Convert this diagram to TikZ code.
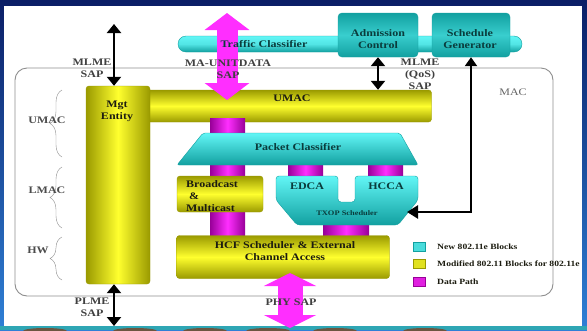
\documentclass[tikz,border=0pt]{standalone}
\usepackage{fontspec}
\setmainfont[FakeStretch=1.2]{Liberation Serif}
\usetikzlibrary{arrows.meta,positioning,decorations.pathreplacing}

\definecolor{navy}{HTML}{0B1E66}
\definecolor{skyblue}{HTML}{2F80D6}
\definecolor{stripteal}{HTML}{2EA6B4}
\definecolor{stripbrown}{HTML}{6B5640}
\definecolor{yelmid}{HTML}{FFFF2E}
\definecolor{yeledge}{HTML}{9A9A00}
\definecolor{cyanmid}{HTML}{62F6F6}
\definecolor{cyanedge}{HTML}{12A0A0}
\definecolor{tealbox}{HTML}{1DB3B3}
\definecolor{magmid}{HTML}{FF2EFF}
\definecolor{magedge}{HTML}{980098}
\definecolor{macgray}{HTML}{8E8E8E}
\definecolor{inkdark}{HTML}{1C1C10}
\definecolor{inkteal}{HTML}{0A3C3C}

\tikzset{
  yelvert/.style={draw=yeledge, rounded corners=3pt, left color=yeledge, right color=yeledge, middle color=yelmid, inner sep=0pt},
  yelhorz/.style={draw=yeledge, rounded corners=3pt, top color=yeledge, bottom color=yeledge, middle color=yelmid, inner sep=0pt},
  cyanblk/.style={draw=cyanedge, top color=cyanmid, bottom color=cyanedge},
  tealblk/.style={draw=cyanedge, rounded corners=4pt, top color=cyanedge, bottom color=cyanedge, middle color=tealbox!60!cyanmid, inner sep=0pt},
  pipe/.style={left color=magedge, right color=magedge, middle color=magmid},
  blktxt/.style={font=\bfseries\fontsize{10}{12}\selectfont, align=center, inner sep=0pt, text=inkdark},
  brlbl/.style={font=\bfseries\fontsize{10}{12}\selectfont, inner sep=0pt, text=black!70},
  ctrl/.style={line width=2.4pt, {Triangle[length=9pt,width=14pt]}-{Triangle[length=9pt,width=14pt]}},
  fatsap/.style={magmid, line width=21pt, {Triangle[length=17pt,width=44pt]}-{Triangle[length=17pt,width=44pt]}},
  legtxt/.style={font=\bfseries\fontsize{8}{10}\selectfont, anchor=west, inner sep=0pt, text=inkdark},
}

\begin{document}
\begin{tikzpicture}[x=1pt,y=-1pt]
    \useasboundingbox (0,0) rectangle (587,330);
    % slide backdrop
    \shade[top color=navy, bottom color=skyblue] (0,0) rectangle (587,330);
    \fill[white] (4,6) rectangle (582,326);
    \fill[stripteal] (0,326) rectangle (587,330);
    \foreach \x in {45,135,205,268,335,425}
        \fill[stripbrown] (\x,331) ellipse (22pt and 3pt);

    % MAC frame and layer braces
    \draw[macgray, line width=0.9pt, rounded corners=12pt] (15,68) rectangle (553,296);
    \node[font=\fontsize{10}{12}\selectfont, text=black!60] (maclbl) at (513,92) {MAC};
    \draw[macgray, decorate, decoration={brace, amplitude=12pt}] (62,157) -- (62,90);
    \draw[macgray, decorate, decoration={brace, amplitude=12pt}] (62,228) -- (62,167);
    \draw[macgray, decorate, decoration={brace, amplitude=12pt}] (62,280) -- (62,237);
    \node[brlbl] (umaclbl) at (47,120) {UMAC};
    \node[brlbl] (lmaclbl) at (47,190) {LMAC};
    \node[brlbl] (hwlbl) at (38,250) {HW};

    % QoS control blocks above the MAC
    \node[draw=cyanedge, rounded corners=8pt, top color=cyanmid, bottom color=cyanedge, middle color=cyanmid!80!cyanedge,
          minimum width=344pt, minimum height=16pt, inner sep=0pt] (traffic) at (350,44) {};

    % management and upper MAC
    \node[yelhorz, minimum width=287pt, minimum height=32pt] (umac) at (288,106) {};
    \node[yelvert, minimum width=64pt, minimum height=198pt] (mgt) at (118,185) {};
    \node[blktxt] (mgttxt) at (117,111) {Mgt\\Entity};
    \node[blktxt] (umactxt) at (292,98) {UMAC};

    % MA-UNITDATA SAP
    \coordinate (matop) at (227,13);
    \coordinate (mabot) at (227,100);
    \draw[fatsap] (matop) -- (mabot);
    \node[blktxt, text=inkteal] (traffictxt) at (264,44) {Traffic Classifier};
    \node[blktxt, text=black!75] (masap) at (228,69) {MA-UNITDATA\\SAP};

    \node[tealblk, minimum width=80pt, minimum height=44pt] (adm) at (378,35) {};
    \node[tealblk, minimum width=78pt, minimum height=44pt] (sched) at (471,35) {};
    \node[blktxt, text=inkteal] (admtxt) at (378,39) {Admission\\Control};
    \node[blktxt, text=inkteal] (schedtxt) at (470,39) {Schedule\\Generator};

    % data path pipes
    \fill[pipe] (210,118) rectangle (245,137);
    \fill[pipe] (210,160) rectangle (245,180);
    \fill[pipe] (288,160) rectangle (323,180);
    \fill[pipe] (368,160) rectangle (403,180);
    \fill[pipe] (210,208) rectangle (245,240);
    \fill[pipe] (323,221) rectangle (369,240);

    % lower MAC
    \draw[cyanblk, rounded corners=2pt] (203,133) -- (400,133) -- (418,165) -- (177,165) -- cycle;
    \node[blktxt, text=inkteal] (pcls) at (298,147) {Packet Classifier};

    \node[yelhorz, minimum width=86pt, minimum height=36pt] (bcast) at (220,194) {};
    \node[blktxt, align=left, anchor=west] (bcasttxt) at (186,196) {Broadcast\\\ \&\\Multicast};

    \draw[cyanblk, rounded corners=3pt] (276,176) -- (338,176) -- (338,202) -- (355,202) -- (355,176)
        -- (418,176) -- (418,200) -- (398,225) -- (297,225) -- (276,200) -- cycle;
    \node[blktxt, text=inkteal] (edca) at (307,186) {EDCA};
    \node[blktxt, text=inkteal] (hcca) at (386,186) {HCCA};
    \node[blktxt, text=inkteal, font=\bfseries\fontsize{7}{8}\selectfont] (txop) at (347,213) {TXOP Scheduler};
    \coordinate (txopin) at (407,212);

    \node[yelhorz, minimum width=213pt, minimum height=43pt] (hcf) at (283,257) {};
    \node[blktxt] (hcftxt) at (285,251) {HCF Scheduler \& External\\Channel Access};

    % PHY SAP
    \coordinate (phytop) at (290,273);
    \coordinate (phybot) at (290,328);
    \draw[fatsap, line width=25pt, {Triangle[length=13pt,width=52pt]}-{Triangle[length=13pt,width=52pt]}] (phytop) -- (phybot);
    \node[blktxt, text=black!75] (physap) at (291,302) {PHY SAP};

    % control SAPs
    \coordinate (mlmetop) at (114,24);
    \coordinate (plmebot) at (114,326);
    \draw[ctrl] (mlmetop) -- (mlmetop |- mgt.north);
    \draw[ctrl] (mgt.south -| plmebot) -- (plmebot);
    \draw[ctrl] (adm.south) -- (adm.south |- umac.north);
    \draw[ctrl, {Triangle[length=9pt,width=12pt]}-{Triangle[length=11pt,width=13pt]}] (sched.south) -- (sched.south |- txopin) -- (txopin);
    \node[blktxt, text=black!75] (mlmesap) at (92,68) {MLME\\SAP};
    \node[blktxt, text=black!75] (qossap) at (420,74) {MLME\\(QoS)\\SAP};
    \node[blktxt, text=black!75] (plmesap) at (92,307) {PLME\\SAP};

    % legend
    \filldraw[draw=cyanedge, fill=cyanmid!70!cyanedge] (413,242) rectangle (425,251);
    \filldraw[draw=yeledge, fill=yelmid!70!yeledge] (413,259) rectangle (425,268);
    \filldraw[draw=magedge, fill=magmid!70!magedge] (413,277) rectangle (425,286);
    \node[legtxt] (lgnew) at (437,246.5) {New 802.11e Blocks};
    \node[legtxt] (lgmod) at (437,263.5) {Modified 802.11 Blocks for 802.11e};
    \node[legtxt] (lgdata) at (437,281.5) {Data Path};
\end{tikzpicture}
\end{document}
